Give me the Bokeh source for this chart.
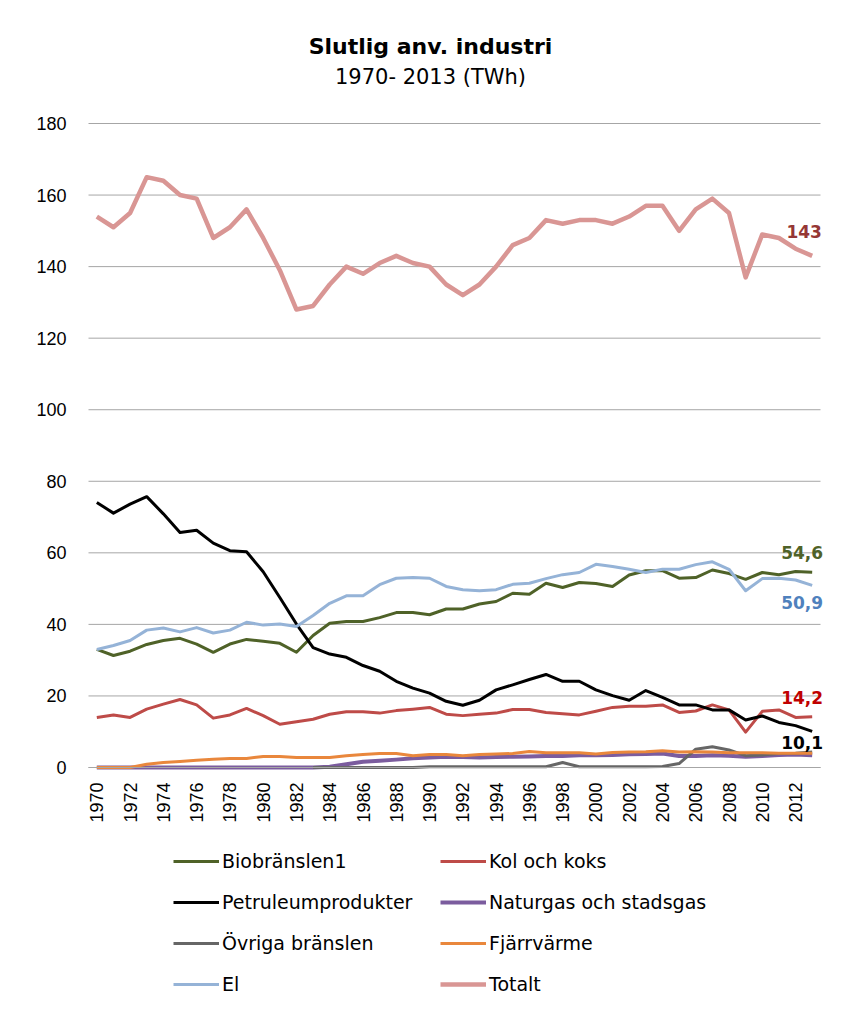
import math
from bokeh.plotting import figure
from bokeh.models import Label, Legend, LegendItem, FixedTicker, Range1d
from bokeh.embed import file_html
from bokeh.resources import INLINE

NaN = float("nan")
years = list(range(1970, 2014))

bio = [33.0, 31.3, 32.5, 34.4, 35.5, 36.1, 34.5, 32.2, 34.5, 35.8,
       35.3, 34.7, 32.2, 36.9, 40.3, 40.8, 40.8, 41.9, 43.3, 43.3,
       42.7, 44.3, 44.3, 45.7, 46.4, 48.7, 48.4, 51.5, 50.3, 51.7,
       51.4, 50.6, 53.8, 55.0, 55.0, 52.9, 53.1, 55.2, 54.2, 52.6,
       54.5, 53.9, 54.8, 54.6]
kol = [14.0, 14.7, 14.0, 16.3, 17.7, 19.0, 17.5, 13.8, 14.7, 16.5,
       14.5, 12.1, 12.8, 13.5, 14.9, 15.6, 15.6, 15.2, 15.9, 16.3,
       16.8, 14.9, 14.5, 14.9, 15.2, 16.2, 16.2, 15.4, 15.0, 14.7,
       15.7, 16.8, 17.1, 17.1, 17.5, 15.4, 15.8, 17.5, 16.1, 9.9,
       15.7, 16.1, 14.0, 14.2]
petro = [74.1, 71.1, 73.6, 75.7, 70.9, 65.7, 66.3, 62.7, 60.6, 60.3,
         54.7, 47.5, 40.1, 33.5, 31.7, 30.8, 28.5, 26.9, 24.1, 22.2,
         20.8, 18.5, 17.4, 18.8, 21.7, 23.1, 24.6, 26.0, 24.1, 24.1,
         21.7, 20.1, 18.8, 21.5, 19.6, 17.5, 17.5, 16.1, 16.1, 13.3,
         14.4, 12.6, 11.7, 10.1]
naturgas = [0, 0, 0, 0, 0, 0, 0, 0, 0, 0,
            0, 0, 0, 0, 0.2, 0.9, 1.6, 1.9, 2.2, 2.6,
            2.8, 3.0, 2.9, 2.8, 2.9, 3.0, 3.1, 3.2, 3.2, 3.4,
            3.4, 3.5, 3.7, 3.8, 3.9, 3.2, 3.2, 3.4, 3.3, 3.0,
            3.2, 3.5, 3.6, 3.4]
ovriga = [NaN, NaN, NaN, NaN, NaN, NaN, NaN, NaN, NaN, NaN,
          NaN, NaN, NaN, 0, 0, 0, 0, 0, 0, 0,
          0.2, 0.2, 0.2, 0.2, 0.2, 0.2, 0.2, 0.2, 1.4, 0.2,
          0.2, 0.2, 0.2, 0.2, 0.3, 1.1, 5.1, 5.8, 4.9, 3.3,
          3.5, 3.9, 4.0, 4.3]
fjarr = [0, 0, 0, 0.9, 1.4, 1.7, 2.0, 2.3, 2.5, 2.5,
         3.1, 3.1, 2.8, 2.8, 2.8, 3.3, 3.6, 3.9, 3.9, 3.3,
         3.6, 3.6, 3.3, 3.6, 3.8, 3.9, 4.5, 4.1, 4.1, 4.1,
         3.8, 4.2, 4.3, 4.4, 4.7, 4.3, 4.4, 4.3, 4.1, 4.1,
         4.1, 4.0, 4.0, 4.0]
el = [33.0, 34.1, 35.5, 38.4, 39.0, 37.9, 39.1, 37.6, 38.4, 40.6,
      39.8, 40.1, 39.4, 42.5, 45.9, 48.0, 48.0, 51.1, 52.9, 53.1,
      52.9, 50.6, 49.7, 49.4, 49.7, 51.2, 51.5, 52.8, 53.9, 54.5,
      56.8, 56.2, 55.4, 54.5, 55.4, 55.4, 56.7, 57.5, 55.4, 49.4,
      52.8, 52.9, 52.4, 50.9]
totalt = [154, 151, 155, 165, 164, 160, 159, 148, 151, 156,
          148, 139, 128, 129, 135, 140, 138, 141, 143, 141,
          140, 135, 132, 135, 140, 146, 148, 153, 152, 153,
          153, 152, 154, 157, 157, 150, 156, 159, 155, 137,
          149, 148, 145, 143]

series_names = ["Biobränslen1", "Kol och koks", "Petruleumprodukter",
                "Naturgas och stadsgas", "Övriga bränslen", "Fjärrvärme",
                "El", "Totalt"]
series_values = [bio, kol, petro, naturgas, ovriga, fjarr, el, totalt]
series_colors = ["#4F6228", "#BE4B48", "#000000", "#7B5C9E", "#666666",
                 "#E9873C", "#95B3D7", "#D99694"]
series_widths = [3, 3, 3, 4, 3, 3, 3, 4.5]

y_ticks = [0, 20, 40, 60, 80, 100, 120, 140, 160, 180]
x_ticks = list(range(1970, 2013, 2))

TEXT_FONT = "DejaVu Sans"
TICK_FONT = "Liberation Sans"

W, H = 830, 995
# plot area in canvas pixels
FL, FR, FT, FB = 88, 820, 123, 767
x_lo, x_hi = years[0] - 0.5, years[-1] + 0.5
y_lo, y_hi = y_ticks[0], y_ticks[-1]
sx = (FR - FL) / (x_hi - x_lo)
sy = (FB - FT) / (y_hi - y_lo)
xr = Range1d(x_lo - FL / sx, x_hi + (W - FR) / sx)
yr = Range1d(y_lo - (H - FB) / sy, y_hi + FT / sy)

def px_to_x(px):
    return xr.start + px / sx

def py_to_y(py):
    return yr.end - py / sy

p = figure(width=W, height=H, output_backend="svg", toolbar_location=None,
           x_range=xr, y_range=yr,
           min_border=0, min_border_left=0, min_border_right=0,
           min_border_top=0, min_border_bottom=0)
p.outline_line_color = None
p.background_fill_color = "white"
p.border_fill_color = "white"
p.xgrid.grid_line_color = None
p.ygrid.grid_line_color = None

# horizontal gridlines over the plot area only
p.segment(x0=[x_lo] * len(y_ticks), x1=[x_hi] * len(y_ticks),
          y0=y_ticks, y1=y_ticks, line_color="#A6A6A6", line_width=1)

p.yaxis.fixed_location = x_lo
p.yaxis.ticker = FixedTicker(ticks=y_ticks)
p.yaxis.axis_line_color = None
p.yaxis.major_tick_line_color = None
p.yaxis.minor_tick_line_color = None
p.yaxis.major_tick_out = 0
p.yaxis.major_tick_in = 0
p.yaxis.major_label_standoff = 22
p.yaxis.major_label_text_font = TICK_FONT
p.yaxis.major_label_text_font_size = "18px"
p.yaxis.major_label_text_color = "#000000"

p.xaxis.fixed_location = 0
p.xaxis.bounds = (x_lo, x_hi)
p.xaxis.ticker = FixedTicker(ticks=x_ticks)
p.xaxis.axis_line_color = "#A6A6A6"
p.xaxis.major_tick_line_color = None
p.xaxis.minor_tick_line_color = None
p.xaxis.major_tick_out = 0
p.xaxis.major_tick_in = 0
p.xaxis.major_label_standoff = 15
p.xaxis.major_label_orientation = math.pi / 2
p.xaxis.major_label_text_font = TICK_FONT
p.xaxis.major_label_text_font_size = "18px"
p.xaxis.major_label_text_color = "#000000"

renderers = []
for name, vals, col, w in zip(series_names, series_values, series_colors, series_widths):
    r = p.line(years, vals, line_color=col, line_width=w, line_join="round")
    renderers.append(r)

rmap = dict(zip(series_names, renderers))
col1 = ["Biobränslen1", "Petruleumprodukter", "Övriga bränslen", "El"]
col2 = ["Kol och koks", "Naturgas och stadsgas", "Fjärrvärme", "Totalt"]
for names, xloc in ((col1, 173), (col2, 440)):
    lg = Legend(items=[LegendItem(label=n, renderers=[rmap[n]]) for n in names],
                location=(xloc, 0), orientation="vertical",
                padding=0, margin=0, spacing=19,
                glyph_width=46, glyph_height=22, label_height=22,
                label_standoff=3,
                label_text_font=TEXT_FONT, label_text_font_size="19px",
                label_text_color="#000000",
                border_line_color=None, background_fill_alpha=0)
    p.add_layout(lg)

def fmt(v):
    if abs(v - round(v)) < 1e-9 and v >= 100:
        return str(int(round(v)))
    return f"{v:.1f}".replace(".", ",")

end_labels = [
    (totalt, "#953735", -8, 24),
    (bio, "#4F6228", -10, 20),
    (el, "#4F81BD", -10, -17),
    (kol, "#C00000", -10, 19),
    (petro, "#000000", -10, -11),
]
for vals, col, dx, dy in end_labels:
    p.add_layout(Label(x=years[-1], y=vals[-1], text=fmt(vals[-1]),
                       x_offset=dx, y_offset=dy,
                       text_align="center", text_baseline="middle",
                       text_font=TEXT_FONT, text_font_style="bold",
                       text_font_size="17px", text_color=col))

p.add_layout(Label(x=px_to_x(430), y=py_to_y(46),
                   text="Slutlig anv. industri", text_align="center",
                   text_baseline="alphabetic", text_font=TEXT_FONT,
                   text_font_style="bold", text_font_size="22px",
                   text_color="#000000"))
p.add_layout(Label(x=px_to_x(430), y=py_to_y(76),
                   text="1970- 2013 (TWh)", text_align="center",
                   text_baseline="alphabetic", text_font=TEXT_FONT,
                   text_font_size="21px", text_color="#000000"))

open("out.html", "w").write(file_html(p, INLINE))
